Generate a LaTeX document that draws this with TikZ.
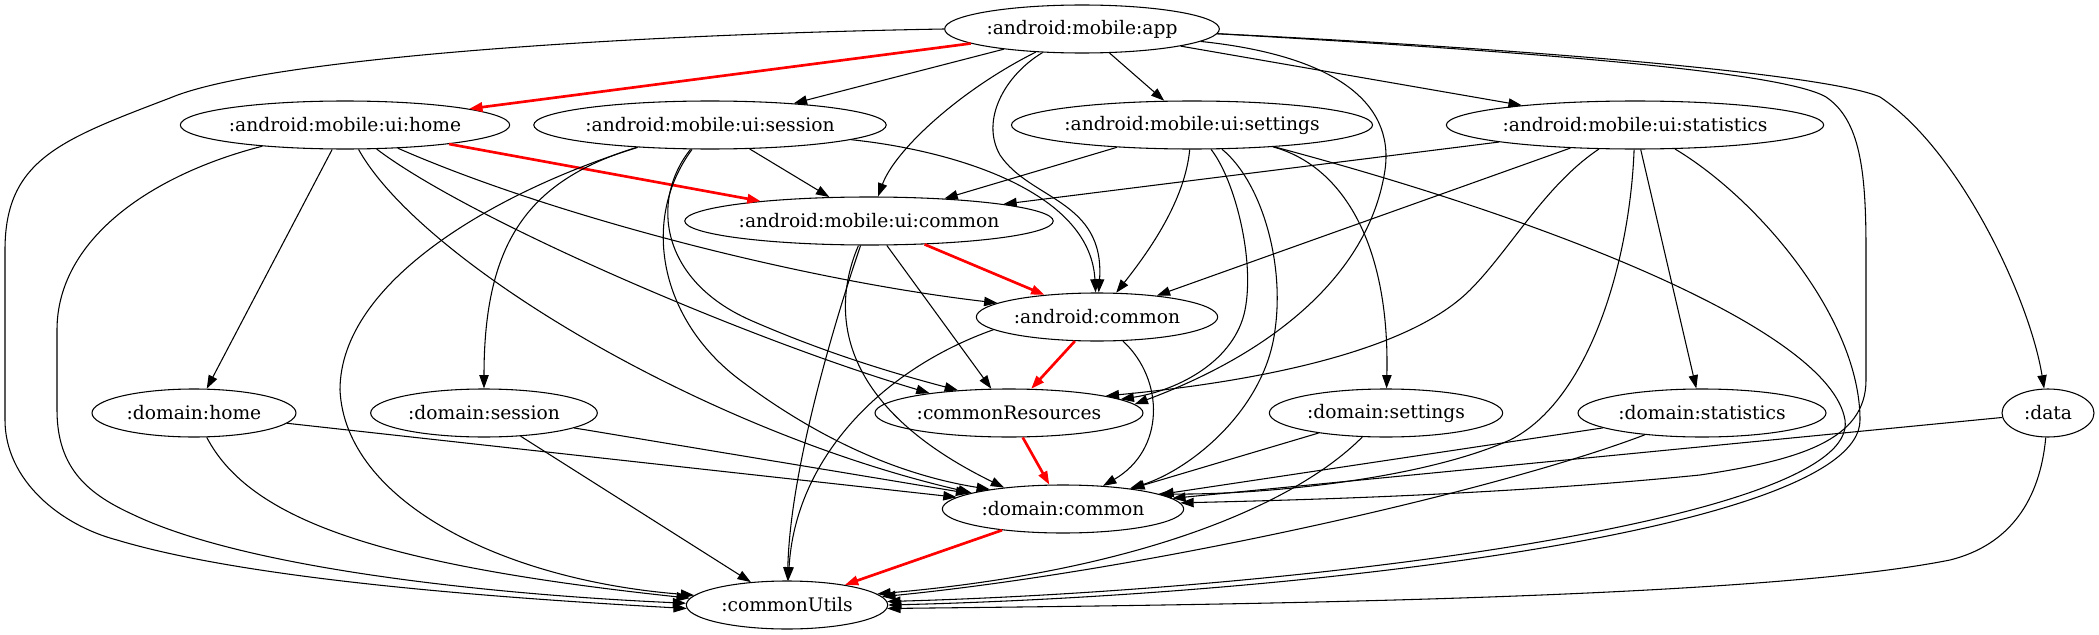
\documentclass[tikz,border=0pt]{standalone}
\usepackage{fontspec}
\setmainfont{DejaVu Serif}
\usepackage{xcolor}
\usetikzlibrary{arrows.meta,shapes.geometric}

\tikzset{
  mod/.style={ellipse,draw,line width=0.8pt,inner sep=0pt,minimum height=36pt,font=\fontsize{14}{16}\selectfont},
  dep/.style={draw,line width=0.8pt,-{Triangle[length=10pt,width=7pt]}},
  hot/.style={red,line width=2pt}
}

\begin{document}
\begin{tikzpicture}[x=0.75pt,y=-0.75pt]
\useasboundingbox (0,0) rectangle (2099,635);
\node[mod,minimum width=206pt] (app) at (1082,29) {:android:mobile:app};
\node[mod,minimum width=247pt] (uihome) at (345,125) {:android:mobile:ui:home};
\node[mod,minimum width=264pt] (uisession) at (710,125) {:android:mobile:ui:session};
\node[mod,minimum width=270pt] (uisettings) at (1192,125) {:android:mobile:ui:settings};
\node[mod,minimum width=283pt] (uistats) at (1635,125) {:android:mobile:ui:statistics};
\node[mod,minimum width=274pt] (uicommon) at (869,221) {:android:mobile:ui:common};
\node[mod,minimum width=181pt] (acommon) at (1097,317) {:android:common};
\node[mod,minimum width=153pt] (dhome) at (194,413) {:domain:home};
\node[mod,minimum width=170pt] (dsession) at (484,413) {:domain:session};
\node[mod,minimum width=201pt] (cres) at (1009,413) {:commonResources};
\node[mod,minimum width=175pt] (dsettings) at (1386,413) {:domain:settings};
\node[mod,minimum width=186pt] (dstats) at (1702,413) {:domain:statistics};
\node[mod,minimum width=69pt] (data) at (2048,413) {:data};
\node[mod,minimum width=181pt] (dcommon) at (1063,509) {:domain:common};
\node[mod,minimum width=151pt] (cutils) at (787,605) {:commonUtils};

\path[dep]
  (app) edge[hot] (uihome)
  (app) edge (uisession)
  (app) edge (uisettings)
  (app) edge (uistats)
  (uihome) edge[hot] (uicommon)
  (uihome) edge (dhome)
  (uisession) edge (uicommon)
  (uisettings) edge (uicommon)
  (uistats) edge (uicommon)
  (uistats) edge (acommon)
  (uistats) edge (dstats)
  (uicommon) edge[hot] (acommon)
  (uicommon) edge (cres)
  (acommon) edge[hot] (cres)
  (cres) edge[hot] (dcommon)
  (dhome) edge (dcommon)
  (dsession) edge (dcommon)
  (dsession) edge (cutils)
  (dsettings) edge (dcommon)
  (dstats) edge (dcommon)
  (data) edge (dcommon)
  (dcommon) edge[hot] (cutils);

\draw[dep] (app.west) .. controls (600,35) and (260,60) .. (170,98) .. controls (60,140) and (5,160) .. (5,250) -- (5,420) .. controls (5,480) and (60,525) .. (117,540) .. controls (250,580) and (500,598) .. (cutils.182);
\draw[dep] (app) .. controls (960,90) and (895,150) .. (uicommon);
\draw[dep] (app) .. controls (1005,75) and (980,120) .. (1000,155) .. controls (1030,200) and (1105,200) .. (acommon);
\draw[dep] (app) .. controls (1330,55) and (1395,100) .. (1385,170) .. controls (1370,270) and (1280,350) .. (cres.4);
\draw[dep] (app.358) .. controls (1500,50) and (1780,70) .. (1826,97) .. controls (1860,120) and (1866,170) .. (1866,250) -- (1866,380) .. controls (1866,440) and (1800,460) .. (1700,475) .. controls (1500,495) and (1300,500) .. (dcommon.3);
\draw[dep] (app.358) .. controls (1550,50) and (1830,75) .. (1880,97) .. controls (1960,150) and (2030,300) .. (data);

\draw[dep] (uihome) .. controls (150,175) and (57,240) .. (57,330) -- (57,410) .. controls (57,470) and (90,495) .. (134,515) .. controls (250,570) and (500,595) .. (cutils.179);
\draw[dep] (uihome) .. controls (420,260) and (700,430) .. (dcommon.170);
\draw[dep] (uihome) .. controls (470,220) and (750,340) .. (cres.166);
\draw[dep] (uihome) .. controls (550,215) and (800,280) .. (acommon.172);

\draw[dep] (uisession) .. controls (950,150) and (1090,190) .. (acommon);
\draw[dep] (uisession) .. controls (500,190) and (340,280) .. (340,390) .. controls (345,500) and (500,580) .. (cutils.174);
\draw[dep] (uisession) .. controls (530,180) and (484,240) .. (dsession);
\draw[dep] (uisession) .. controls (640,220) and (660,320) .. (740,380) .. controls (820,440) and (900,475) .. (dcommon.165);
\draw[dep] (uisession) .. controls (650,200) and (660,280) .. (750,320) .. controls (830,355) and (900,375) .. (cres.156);

\draw[dep] (uisettings) .. controls (1185,200) and (1150,250) .. (acommon);
\draw[dep] (uisettings) .. controls (1235,180) and (1255,260) .. (1245,310) .. controls (1235,360) and (1180,390) .. (cres.7);
\draw[dep] (uisettings) .. controls (1260,180) and (1285,260) .. (1275,330) .. controls (1265,410) and (1190,470) .. (dcommon.17);
\draw[dep] (uisettings) .. controls (1340,165) and (1390,240) .. (dsettings);
\draw[dep] (uisettings) .. controls (1550,220) and (1830,330) .. (1845,420) .. controls (1860,520) and (1300,590) .. (cutils.2);

\draw[dep] (uistats) .. controls (1545,185) and (1510,250) .. (1470,290) .. controls (1400,360) and (1220,385) .. (cres.10);
\draw[dep] (uistats) .. controls (1630,260) and (1590,400) .. (1510,440) .. controls (1420,480) and (1260,495) .. (dcommon.9);
\draw[dep] (uistats) .. controls (1760,200) and (1860,320) .. (1860,420) .. controls (1860,530) and (1300,595) .. (cutils.0);

\draw[dep] (uicommon) .. controls (835,300) and (825,400) .. (dcommon.160);
\draw[dep] (uicommon) .. controls (835,320) and (790,470) .. (cutils);
\draw[dep] (acommon) .. controls (1165,380) and (1165,450) .. (dcommon);
\draw[dep] (acommon.187) .. controls (880,370) and (795,460) .. (cutils);

\draw[dep] (dhome) .. controls (250,520) and (380,565) .. (cutils.176);
\draw[dep] (dsettings) .. controls (1300,500) and (1150,570) .. (cutils.7);
\draw[dep] (dstats) .. controls (1500,490) and (1150,570) .. (cutils.5);
\draw[dep] (data) .. controls (2040,500) and (2010,545) .. (1950,560) .. controls (1750,600) and (1200,605) .. (cutils.-2);
\end{tikzpicture}
\end{document}
